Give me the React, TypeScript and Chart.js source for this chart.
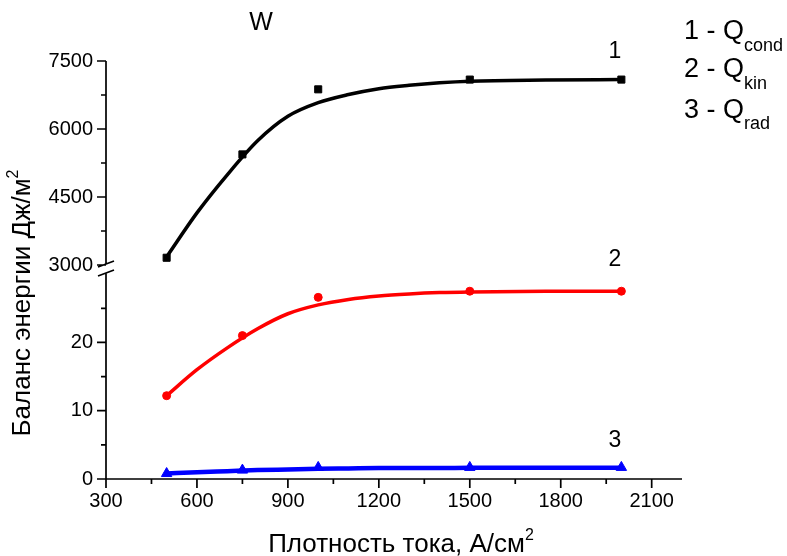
import React, { useEffect, useRef } from "react";
import { Chart, registerables } from "chart.js";
Chart.register(...registerables);

// Measured points
const currentDensity = [500, 750, 1000, 1500, 2000];
const qCond = [3160, 5440, 6875, 7090, 7090];
const qKin = [12.2, 21.0, 26.6, 27.5, 27.5];
const qRad = [0.8, 1.3, 1.7, 1.7, 1.7];

// Fitted curves
const fitX = [500, 600, 700, 800, 900, 1000, 1100, 1200, 1300, 1400, 1500, 1750, 2000];
const fitCond = [3180, 4150, 4990, 5740, 6280, 6580, 6760, 6890, 6965, 7020, 7055, 7080, 7090];
const fitKin = [12.2, 16.0, 19.2, 22.0, 24.2, 25.5, 26.3, 26.8, 27.1, 27.3, 27.4, 27.5, 27.5];
const fitRad = [0.8, 1.0, 1.15, 1.3, 1.4, 1.5, 1.55, 1.6, 1.6, 1.6, 1.65, 1.65, 1.65];

// Ticks
const xTicks = [300, 600, 900, 1200, 1500, 1800, 2100];
const xMinorTicks = [450, 750, 1050, 1350, 1650, 1950];
const upperTicks = [3000, 4500, 6000, 7500];
const upperMinorTicks = [3750, 5250, 6750];
const lowerTicks = [0, 10, 20];
const lowerMinorTicks = [5, 15, 25];

const FONT = "'Liberation Sans', Arial, sans-serif";

const pts = (xs: number[], ys: number[]) => xs.map((x, i) => ({ x, y: ys[i] }));

function drawRich(ctx: CanvasRenderingContext2D, parts: { t: string; size: number; dy: number }[], x: number, y: number, align: "left" | "center") {
  let total = 0;
  for (const p of parts) {
    ctx.font = `${p.size}px ${FONT}`;
    total += ctx.measureText(p.t).width;
  }
  let cx = align === "center" ? x - total / 2 : x;
  ctx.textAlign = "left";
  ctx.textBaseline = "alphabetic";
  for (const p of parts) {
    ctx.font = `${p.size}px ${FONT}`;
    ctx.fillText(p.t, cx, y + p.dy);
    cx += ctx.measureText(p.t).width;
  }
}

const overlay = {
  id: "overlay",
  beforeDatasetsDraw(chart: any) {
    const ctx: CanvasRenderingContext2D = chart.ctx;
    const xs = chart.scales.x;
    const yt = chart.scales.yTop;
    const yb = chart.scales.yBot;
    const area = chart.chartArea;
    ctx.save();
    ctx.strokeStyle = "#000";
    ctx.lineWidth = 1.7;
    ctx.lineCap = "butt";
    const L = area.left;
    const B = area.bottom;
    ctx.beginPath();
    ctx.moveTo(L, B);
    ctx.lineTo(area.right, B);
    for (const v of xTicks) {
      const px = xs.getPixelForValue(v);
      ctx.moveTo(px, B);
      ctx.lineTo(px, B + 9);
    }
    for (const v of xMinorTicks) {
      const px = xs.getPixelForValue(v);
      ctx.moveTo(px, B);
      ctx.lineTo(px, B + 5);
    }
    const gapTop = yt.getPixelForValue(3000) - 1;
    const gapBot = gapTop + 9;
    ctx.moveTo(L, area.top);
    ctx.lineTo(L, gapTop);
    ctx.moveTo(L, gapBot);
    ctx.lineTo(L, B);
    for (const v of upperTicks) {
      const py = yt.getPixelForValue(v);
      ctx.moveTo(L - 9, py);
      ctx.lineTo(L, py);
    }
    for (const v of upperMinorTicks) {
      const py = yt.getPixelForValue(v);
      ctx.moveTo(L - 5, py);
      ctx.lineTo(L, py);
    }
    for (const v of lowerTicks) {
      const py = yb.getPixelForValue(v);
      ctx.moveTo(L - 9, py);
      ctx.lineTo(L, py);
    }
    for (const v of lowerMinorTicks) {
      const py = yb.getPixelForValue(v);
      ctx.moveTo(L - 5, py);
      ctx.lineTo(L, py);
    }
    ctx.moveTo(L - 8, gapTop + 3);
    ctx.lineTo(L + 8, gapTop - 3);
    ctx.moveTo(L - 8, gapBot + 3);
    ctx.lineTo(L + 8, gapBot - 3);
    ctx.stroke();
    ctx.restore();
  },
  afterDraw(chart: any) {
    const ctx: CanvasRenderingContext2D = chart.ctx;
    ctx.save();
    ctx.fillStyle = "#000";
    drawRich(ctx, [{ t: "W", size: 25, dy: 0 }], 261, 30, "center");
    drawRich(ctx, [{ t: "1", size: 23, dy: 0 }], 615, 58, "center");
    drawRich(ctx, [{ t: "2", size: 23, dy: 0 }], 615, 266, "center");
    drawRich(ctx, [{ t: "3", size: 23, dy: 0 }], 615, 447, "center");
    drawRich(ctx, [{ t: "1 - Q", size: 27, dy: 0 }, { t: "cond", size: 18, dy: 12 }], 684, 39, "left");
    drawRich(ctx, [{ t: "2 - Q", size: 27, dy: 0 }, { t: "kin", size: 18, dy: 12 }], 684, 77, "left");
    drawRich(ctx, [{ t: "3 - Q", size: 27, dy: 0 }, { t: "rad", size: 18, dy: 11 }], 684, 118, "left");
    drawRich(ctx, [{ t: "Плотность тока, А/см", size: 26, dy: 0 }, { t: "2", size: 16, dy: -12 }], 401, 552, "center");
    ctx.save();
    ctx.translate(30, 303);
    ctx.rotate(-Math.PI / 2);
    drawRich(ctx, [{ t: "Баланс энергии Дж/м", size: 26, dy: 0 }, { t: "2", size: 16, dy: -12 }], 0, 0, "center");
    ctx.restore();
    ctx.restore();
  },
};

export default function App() {
  const ref = useRef<HTMLCanvasElement | null>(null);
  useEffect(() => {
    if (!ref.current) return;
    const tickFont = { family: FONT, size: 20 };
    const fmt = (v: any) => String(v);
    const chart = new Chart(ref.current, {
      type: "line",
      data: {
        datasets: [
          {
            label: "fit cond",
            data: pts(fitX, fitCond),
            yAxisID: "yTop",
            borderColor: "#000000",
            borderWidth: 3.5,
            pointRadius: 0,
            cubicInterpolationMode: "monotone",
            fill: false,
          },
          {
            label: "Q cond",
            data: pts(currentDensity, qCond),
            yAxisID: "yTop",
            showLine: false,
            pointStyle: "rect",
            pointRadius: 5,
            borderWidth: 1,
            backgroundColor: "#000000",
            borderColor: "#000000",
          },
          {
            label: "fit kin",
            data: pts(fitX, fitKin),
            yAxisID: "yBot",
            borderColor: "#ff0000",
            borderWidth: 3.5,
            pointRadius: 0,
            cubicInterpolationMode: "monotone",
            fill: false,
          },
          {
            label: "Q kin",
            data: pts(currentDensity, qKin),
            yAxisID: "yBot",
            showLine: false,
            pointStyle: "circle",
            pointRadius: 4,
            borderWidth: 1,
            backgroundColor: "#ff0000",
            borderColor: "#ff0000",
          },
          {
            label: "fit rad",
            data: pts(fitX, fitRad),
            yAxisID: "yBot",
            borderColor: "#0000ff",
            borderWidth: 4.5,
            pointRadius: 0,
            cubicInterpolationMode: "monotone",
            fill: false,
          },
          {
            label: "Q rad",
            data: pts(currentDensity, qRad),
            yAxisID: "yBot",
            showLine: false,
            pointStyle: "triangle",
            pointRadius: 6,
            borderWidth: 1,
            backgroundColor: "#0000ff",
            borderColor: "#0000ff",
          },
        ],
      },
      options: {
        animation: false,
        responsive: false,
        layout: { padding: { top: 61, right: 105, left: 0, bottom: 0 } },
        plugins: { legend: { display: false }, tooltip: { enabled: false } },
        scales: {
          x: {
            type: "linear",
            min: 300,
            max: 2200,
            grid: { display: false, drawTicks: false },
            border: { display: false },
            ticks: { font: tickFont, color: "#000", padding: 10, maxRotation: 0, callback: fmt },
            afterBuildTicks: (s: any) => {
              s.ticks = xTicks.map((v) => ({ value: v }));
            },
            afterFit: (s: any) => {
              s.height = 77;
            },
          },
          yTop: {
            type: "linear",
            position: "left",
            stack: "y",
            stackWeight: 207,
            weight: 2,
            min: 2934,
            max: 7500,
            grid: { display: false, drawTicks: false },
            border: { display: false },
            ticks: { font: tickFont, color: "#000", padding: 13, callback: fmt },
            afterBuildTicks: (s: any) => {
              s.ticks = upperTicks.map((v) => ({ value: v }));
            },
            afterFit: (s: any) => {
              s.width = 106;
            },
          },
          yBot: {
            type: "linear",
            position: "left",
            stack: "y",
            stackWeight: 211,
            weight: 1,
            min: 0,
            max: 30.9,
            grid: { display: false, drawTicks: false },
            border: { display: false },
            ticks: { font: tickFont, color: "#000", padding: 13, callback: fmt },
            afterBuildTicks: (s: any) => {
              s.ticks = lowerTicks.map((v) => ({ value: v }));
            },
            afterFit: (s: any) => {
              s.width = 106;
            },
          },
        },
      } as any,
      plugins: [overlay],
    });
    return () => chart.destroy();
  }, []);
  return (
    <div style={{ position: "absolute", left: 0, top: 0, width: 787, height: 556, background: "#fff" }}>
      <canvas ref={ref} width={787} height={556} style={{ display: "block" }} />
    </div>
  );
}
